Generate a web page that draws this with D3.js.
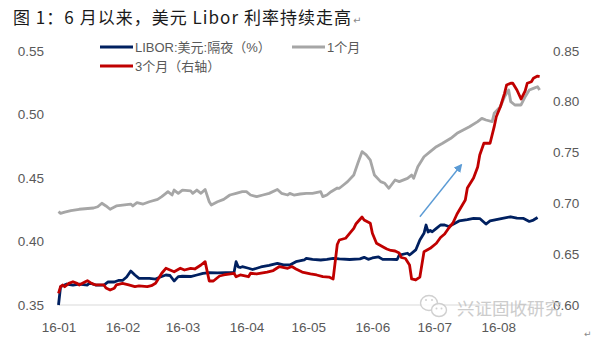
<!DOCTYPE html>
<html>
<head>
<meta charset="utf-8">
<script src="https://cdn.jsdelivr.net/npm/d3@7/dist/d3.min.js"></script>
<style>
  html, body { margin: 0; padding: 0; background: #fff; }
  svg { display: block; }
</style>
</head>
<body>
<svg id="chart" width="597" height="342"></svg>
<script>
// USD LIBOR fixings, 2016 (month-day, percent)
const overnight = [
  ["01-01",0.3500],["01-02",0.3644],["01-05",0.3665],["01-08",0.3657],["01-11",0.3665],["01-15",0.3657],
  ["01-16",0.3673],["01-19",0.3657],["01-23",0.3657],["01-25",0.3681],["01-28",0.3681],["01-30",0.3693],
  ["02-01",0.3693],["02-03",0.3720],["02-05",0.3767],["02-07",0.3736],["02-09",0.3710],["02-12",0.3710],
  ["02-14",0.3710],["02-17",0.3704],["02-19",0.3718],["02-22",0.3736],["02-24",0.3732],["02-26",0.3689],
  ["02-28",0.3723],["03-01",0.3726],["03-05",0.3724],["03-08",0.3736],["03-11",0.3749],["03-14",0.3754],
  ["03-18",0.3752],["03-22",0.3754],["03-26",0.3756],["03-27",0.3841],["03-28",0.3800],["03-29",0.3795],
  ["03-30",0.3801],["04-02",0.3789],["04-04",0.3779],["04-08",0.3799],["04-12",0.3811],["04-16",0.3828],
  ["04-19",0.3815],["04-22",0.3815],["04-25",0.3841],["04-29",0.3854],["04-30",0.3867],["05-03",0.3859],
  ["05-07",0.3854],["05-10",0.3859],["05-13",0.3867],["05-16",0.3862],["05-21",0.3858],["05-26",0.3863],
  ["05-28",0.3875],["05-30",0.3859],["06-01",0.3870],["06-04",0.3878],["06-06",0.3859],["06-10",0.3859],
  ["06-13",0.3858],["06-14",0.3893],["06-18",0.3907],["06-19",0.3893],["06-22",0.3933],["06-24",0.4011],
  ["06-26",0.4064],["06-27",0.4129],["06-28",0.4074],["06-29",0.4086],["06-30",0.4076],["07-02",0.4103],
  ["07-04",0.4129],["07-06",0.4129],["07-08",0.4117],["07-11",0.4143],["07-13",0.4161],["07-17",0.4172],
  ["07-20",0.4182],["07-23",0.4180],["07-26",0.4137],["07-28",0.4161],["07-31",0.4172],["08-03",0.4182],
  ["08-07",0.4194],["08-10",0.4184],["08-13",0.4182],["08-16",0.4157],["08-18",0.4168],["08-20",0.4188]
];

const oneMonth = [
  ["01-01",0.4234],["01-02",0.4221],["01-04",0.4231],["01-07",0.4242],["01-11",0.4253],["01-18",0.4263],
  ["01-20",0.4273],["01-22",0.4300],["01-24",0.4279],["01-26",0.4253],["01-29",0.4279],["02-01",0.4286],
  ["02-05",0.4294],["02-06",0.4279],["02-08",0.4305],["02-11",0.4294],["02-14",0.4312],["02-18",0.4331],
  ["02-20",0.4352],["02-22",0.4378],["02-23",0.4391],["02-25",0.4365],["02-26",0.4404],["02-28",0.4378],
  ["03-01",0.4404],["03-05",0.4397],["03-06",0.4378],["03-08",0.4404],["03-10",0.4378],["03-12",0.4409],
  ["03-14",0.4312],["03-15",0.4286],["03-18",0.4312],["03-21",0.4331],["03-24",0.4365],["03-27",0.4378],
  ["03-30",0.4391],["04-01",0.4391],["04-03",0.4365],["04-06",0.4352],["04-09",0.4365],["04-12",0.4378],
  ["04-16",0.4409],["04-18",0.4378],["04-21",0.4365],["04-22",0.4378],["04-24",0.4365],["04-27",0.4373],
  ["04-30",0.4378],["05-03",0.4378],["05-07",0.4391],["05-08",0.4352],["05-10",0.4365],["05-12",0.4391],
  ["05-15",0.4420],["05-16",0.4418],["05-18",0.4444],["05-20",0.4470],["05-23",0.4522],["05-25",0.4617],
  ["05-27",0.4706],["05-29",0.4680],["05-31",0.4640],["06-02",0.4522],["06-05",0.4470],["06-07",0.4457],
  ["06-09",0.4418],["06-12",0.4483],["06-14",0.4470],["06-18",0.4496],["06-20",0.4522],["06-21",0.4496],
  ["06-23",0.4588],["06-26",0.4666],["06-29",0.4706],["07-02",0.4745],["07-05",0.4772],["07-09",0.4811],
  ["07-12",0.4850],["07-15",0.4876],["07-18",0.4902],["07-22",0.4942],["07-24",0.4968],["07-26",0.4955],
  ["07-29",0.4942],["07-30",0.5008],["08-02",0.5060],["08-04",0.5138],["08-06",0.5191],["08-07",0.5099],
  ["08-09",0.5073],["08-12",0.5073],["08-14",0.5138],["08-16",0.5191],["08-18",0.5204],["08-20",0.5217],
  ["08-21",0.5191]
];

const threeMonth = [
  ["01-01",0.6115],["01-02",0.6180],["01-03",0.6197],["01-04",0.6180],["01-06",0.6213],["01-08",0.6229],
  ["01-10",0.6213],["01-11",0.6197],["01-14",0.6229],["01-15",0.6239],["01-17",0.6213],["01-19",0.6197],
  ["01-23",0.6197],["01-24",0.6167],["01-26",0.6147],["01-28",0.6164],["01-29",0.6197],["02-01",0.6213],
  ["02-04",0.6197],["02-07",0.6180],["02-09",0.6187],["02-13",0.6180],["02-15",0.6190],["02-17",0.6213],
  ["02-18",0.6246],["02-20",0.6312],["02-22",0.6361],["02-24",0.6344],["02-26",0.6327],["02-29",0.6361],
  ["03-02",0.6344],["03-05",0.6361],["03-07",0.6354],["03-10",0.6393],["03-12",0.6426],["03-14",0.6236],
  ["03-16",0.6236],["03-19",0.6285],["03-21",0.6295],["03-26",0.6312],["03-27",0.6278],["03-29",0.6295],
  ["04-02",0.6278],["04-03",0.6312],["04-06",0.6305],["04-11",0.6324],["04-14",0.6339],["04-17",0.6378],
  ["04-21",0.6361],["04-23",0.6378],["04-25",0.6354],["04-28",0.6324],["05-02",0.6305],["05-05",0.6295],
  ["05-08",0.6278],["05-11",0.6275],["05-13",0.6256],["05-15",0.6595],["05-16",0.6639],["05-19",0.6656],
  ["05-21",0.6705],["05-23",0.6754],["05-24",0.6796],["05-27",0.6865],["05-28",0.6836],["05-31",0.6803],
  ["06-01",0.6705],["06-03",0.6607],["06-06",0.6573],["06-08",0.6551],["06-10",0.6536],["06-12",0.6531],
  ["06-14",0.6511],["06-15",0.6467],["06-17",0.6457],["06-19",0.6393],["06-20",0.6256],["06-22",0.6246],
  ["06-24",0.6275],["06-26",0.6524],["06-29",0.6557],["07-02",0.6607],["07-04",0.6664],["07-06",0.6698],
  ["07-08",0.6757],["07-10",0.6806],["07-12",0.6895],["07-14",0.6963],["07-16",0.7032],["07-17",0.7150],
  ["07-20",0.7249],["07-22",0.7357],["07-23",0.7475],["07-25",0.7590],["07-28",0.7590],["07-30",0.7753],
  ["07-31",0.7851],["08-02",0.7949],["08-04",0.8081],["08-05",0.8163],["08-07",0.8180],["08-08",0.8180],
  ["08-10",0.8114],["08-12",0.8025],["08-14",0.8104],["08-15",0.8180],["08-17",0.8195],["08-18",0.8229],
  ["08-20",0.8251],["08-21",0.8246]
];

const leftTicks  = [0.35, 0.40, 0.45, 0.50, 0.55];
const rightTicks = [0.60, 0.65, 0.70, 0.75, 0.80, 0.85];
const monthTicks = ["01-01","02-01","03-01","04-01","05-01","06-01","07-01","08-01"];

// trend arrow drawn against the right axis: [date, rate]
const trendArrow = [["06-24", 0.6868], ["07-14", 0.7376]];

const seriesNames = ["LIBOR:美元:隔夜（%）", "1个月", "3个月（右轴）"];
const titleText = "图 1：6 月以来，美元 Libor 利率持续走高";
const watermarkText = "兴证固收研究";

const parseDay = d3.timeParse("%Y-%m-%d");
const toDate = s => parseDay("2016-" + s);
const rows = arr => arr.map(([d, v]) => ({ date: toDate(d), v }));

const COLORS = { on: "#002060", m1: "#A6A6A6", m3: "#C00000" };
const TICK_FONT = "'Liberation Sans', 'Noto Sans CJK SC', sans-serif";
const CJK_FONT = "'Liberation Sans', 'Noto Sans CJK SC', sans-serif";

const svg = d3.select("#chart");

const x = d3.scaleTime()
  .domain([toDate("01-01"), toDate("08-22")])
  .range([58.5, 541.7]);
const yLeft = d3.scaleLinear().domain([0.35, 0.55]).range([305, 50.7]);
const yRight = d3.scaleLinear().domain([0.60, 0.85]).range([305, 50.7]);

// title
svg.append("text")
  .attr("x", 13).attr("y", 24)
  .attr("textLength", 338).attr("lengthAdjust", "spacing")
  .attr("font-family", "'Noto Sans CJK SC', sans-serif")
  .attr("font-size", 17).attr("fill", "#1a1a1a")
  .text(titleText);
svg.append("text")
  .attr("x", 353).attr("y", 24)
  .attr("font-family", "'DejaVu Sans', sans-serif")
  .attr("font-size", 10).attr("fill", "#8a8a8a")
  .text("↵");

// baseline of the plot
svg.append("line")
  .attr("x1", 57).attr("x2", x.range()[1])
  .attr("y1", 305).attr("y2", 305)
  .attr("stroke", "#d9d9d9").attr("stroke-width", 1);

// axes
const leftAxis = svg.append("g")
  .attr("transform", `translate(${x.range()[0]},0)`)
  .call(d3.axisLeft(yLeft).tickValues(leftTicks).tickFormat(d3.format(".2f")).tickSize(0).tickPadding(14.5));
const rightAxis = svg.append("g")
  .attr("transform", `translate(${x.range()[1]},0)`)
  .call(d3.axisRight(yRight).tickValues(rightTicks).tickFormat(d3.format(".2f")).tickSize(0).tickPadding(11.3));
const bottomAxis = svg.append("g")
  .attr("transform", "translate(0,305)")
  .call(d3.axisBottom(x).tickValues(monthTicks.map(toDate)).tickFormat(d3.timeFormat("%y-%m")).tickSize(0).tickPadding(17));

[leftAxis, rightAxis, bottomAxis].forEach(g => {
  g.select(".domain").remove();
  g.selectAll("text")
    .attr("font-family", TICK_FONT)
    .attr("font-size", 13.5)
    .attr("fill", "#595959");
});

// watermark
const wm = svg.append("g").attr("opacity", 0.85);
wm.append("ellipse").attr("cx", 429).attr("cy", 303).attr("rx", 8.5).attr("ry", 7.5)
  .attr("fill", "#fff").attr("stroke", "#c8c8c8").attr("stroke-width", 1.4);
wm.append("ellipse").attr("cx", 439).attr("cy", 310).attr("rx", 7.5).attr("ry", 6.5)
  .attr("fill", "#fff").attr("stroke", "#c8c8c8").attr("stroke-width", 1.4);
[[426, 300], [432, 300], [436.5, 308.5], [441.5, 308.5]].forEach(([cx, cy]) =>
  wm.append("circle").attr("cx", cx).attr("cy", cy).attr("r", 1).attr("fill", "#c8c8c8"));
wm.append("text")
  .attr("x", 457).attr("y", 315)
  .attr("font-family", "'Noto Sans CJK SC', sans-serif")
  .attr("font-size", 17.5).attr("fill", "#c4c4c4")
  .text(watermarkText);

// series lines
const lineLeft = d3.line().x(d => x(d.date)).y(d => yLeft(d.v));
const lineRight = d3.line().x(d => x(d.date)).y(d => yRight(d.v));

svg.append("path").datum(rows(oneMonth))
  .attr("d", lineLeft).attr("fill", "none")
  .attr("stroke", COLORS.m1).attr("stroke-width", 2.8).attr("stroke-linejoin", "round");
svg.append("path").datum(rows(overnight))
  .attr("d", lineLeft).attr("fill", "none")
  .attr("stroke", COLORS.on).attr("stroke-width", 2.8).attr("stroke-linejoin", "round");
svg.append("path").datum(rows(threeMonth))
  .attr("d", lineRight).attr("fill", "none")
  .attr("stroke", COLORS.m3).attr("stroke-width", 2.8).attr("stroke-linejoin", "round");

// trend arrow
svg.append("defs").append("marker")
  .attr("id", "arrowHead")
  .attr("viewBox", "0 0 10 10").attr("refX", 8).attr("refY", 5)
  .attr("markerWidth", 6).attr("markerHeight", 6)
  .attr("markerUnits", "strokeWidth")
  .attr("orient", "auto")
  .append("path").attr("d", "M0,0 L10,5 L0,10 Z").attr("fill", "#5B9BD5");
const arrowPts = rows(trendArrow);
svg.append("line")
  .attr("x1", x(arrowPts[0].date)).attr("y1", yRight(arrowPts[0].v))
  .attr("x2", x(arrowPts[1].date)).attr("y2", yRight(arrowPts[1].v))
  .attr("stroke", "#5B9BD5").attr("stroke-width", 1.4)
  .attr("marker-end", "url(#arrowHead)");

// legend
const legendItems = [
  { name: seriesNames[0], color: COLORS.on, x: 100, y: 47 },
  { name: seriesNames[1], color: COLORS.m1, x: 292, y: 47 },
  { name: seriesNames[2], color: COLORS.m3, x: 100, y: 66 }
];
const lg = svg.append("g");
legendItems.forEach(it => {
  lg.append("line")
    .attr("x1", it.x).attr("x2", it.x + 33)
    .attr("y1", it.y).attr("y2", it.y)
    .attr("stroke", it.color).attr("stroke-width", 3);
  lg.append("text")
    .attr("x", it.x + 35).attr("y", it.y + 4.5)
    .attr("font-family", CJK_FONT)
    .attr("font-size", 13).attr("fill", "#595959")
    .text(it.name);
});

// paragraph mark at the lower right
svg.append("text")
  .attr("x", 584).attr("y", 337)
  .attr("font-family", "'DejaVu Sans', sans-serif")
  .attr("font-size", 9).attr("fill", "#8a8a8a")
  .text("↵");
</script>
</body>
</html>
